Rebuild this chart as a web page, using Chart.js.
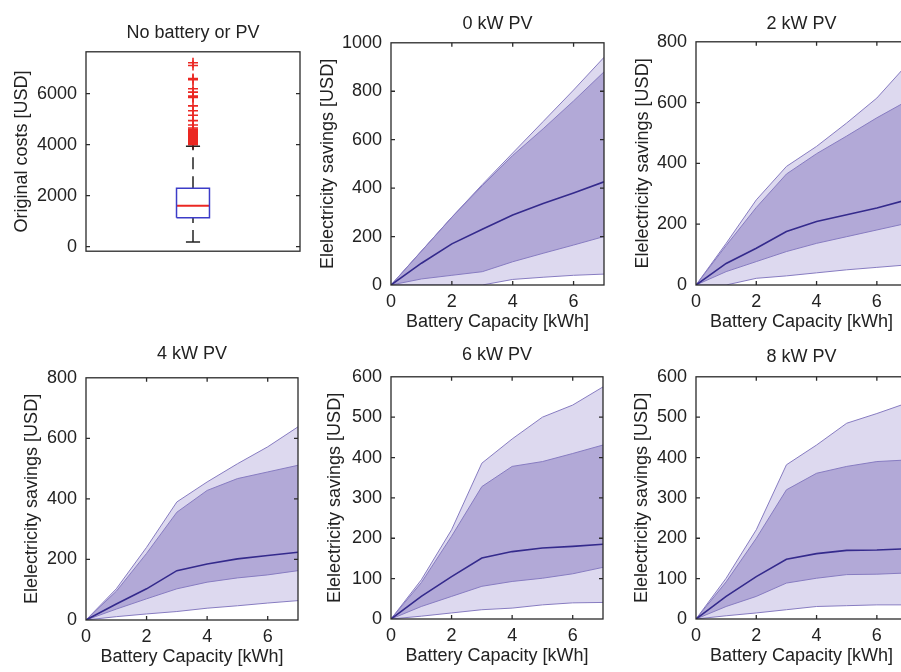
<!DOCTYPE html>
<html>
<head>
<meta charset="utf-8">
<script src="https://cdn.jsdelivr.net/npm/chart.js@4.4.0/dist/chart.umd.min.js"></script>
<style>
  html, body { margin: 0; padding: 0; background: #fff; overflow: hidden; width: 901px; height: 672px; }
  canvas { position: absolute; }
</style>
</head>
<body>
<script>
// ---- data ----
const panelTitles = ['No battery or PV', '0 kW PV', '2 kW PV', '4 kW PV', '6 kW PV', '8 kW PV'];
const capacityKWh = [0, 1, 2, 3, 4, 5, 6, 7];
const xTickValues = [0, 2, 4, 6];

// box plot of original costs (USD)
const costWhiskerLow = 180;
const costQ1 = 1130;
const costMedian = 1600;
const costQ3 = 2290;
const costWhiskerHigh = 3940;
const costOutliers = [7210, 7100, 6590, 6550, 6190, 6060, 5900, 5850, 5520, 5330, 5150, 4940, 4770,
  4650, 4600, 4560, 4520, 4480, 4440, 4400, 4360, 4330, 4300, 4270, 4240, 4210, 4180, 4150,
  4120, 4090, 4060, 4030, 4000];
const costTicks = [0, 2000, 4000, 6000];

// savings percentiles per PV size (USD)
const pv0_p5 = [0, 0, 0, 0, 23, 32, 40, 45];
const pv0_p25 = [0, 25, 40, 55, 96, 131, 165, 200];
const pv0_median = [0, 90, 170, 230, 289, 337, 380, 426];
const pv0_p75 = [0, 140, 280, 410, 535, 645, 760, 880];
const pv0_p95 = [0, 140, 280, 415, 545, 675, 805, 940];

const pv2_p5 = [0, 0, 22, 30, 40, 50, 58, 66];
const pv2_p25 = [0, 44, 77, 110, 137, 159, 181, 203];
const pv2_median = [0, 71, 121, 176, 209, 231, 253, 280];
const pv2_p75 = [0, 130, 255, 365, 432, 490, 550, 605];
const pv2_p95 = [0, 137, 280, 390, 456, 533, 615, 725];

const pv4_p5 = [0, 11, 20, 28, 39, 47, 56, 64];
const pv4_p25 = [0, 36, 70, 103, 125, 139, 149, 163];
const pv4_median = [0, 53, 103, 163, 185, 202, 213, 224];
const pv4_p75 = [0, 95, 220, 356, 428, 467, 489, 511];
const pv4_p95 = [0, 103, 240, 390, 456, 516, 572, 638];

const pv6_p5 = [0, 7, 15, 23, 27, 35, 40, 41];
const pv6_p25 = [0, 31, 56, 81, 93, 101, 112, 128];
const pv6_median = [0, 56, 105, 151, 167, 176, 180, 185];
const pv6_p75 = [0, 90, 205, 328, 378, 390, 410, 431];
const pv6_p95 = [0, 97, 221, 386, 446, 500, 530, 575];

const pv8_p5 = [0, 8, 15, 23, 31, 33, 35, 35];
const pv8_p25 = [0, 31, 56, 89, 101, 110, 111, 114];
const pv8_median = [0, 56, 105, 148, 162, 170, 171, 174];
const pv8_p75 = [0, 92, 200, 320, 361, 378, 390, 394];
const pv8_p95 = [0, 101, 221, 382, 431, 485, 509, 535];

const ticks1000 = [0, 200, 400, 600, 800, 1000];
const ticks800 = [0, 200, 400, 600, 800];
const ticks600 = [0, 100, 200, 300, 400, 500, 600];

// ---- styling ----
const FONT_SIZE = 18;
Chart.defaults.font.family = "'Liberation Sans', Arial, sans-serif";
Chart.defaults.font.size = FONT_SIZE;
Chart.defaults.color = '#222';

const lightBand = 'rgb(221, 217, 239)';
const darkBand = 'rgb(178, 169, 215)';
const edgeColor = 'rgb(135, 124, 193)';
const medianColor = 'rgb(52, 42, 140)';
const LINE_H = FONT_SIZE * 1.2;

// axes box with inward ticks on all four sides (matlab look)
const matlabBox = {
  id: 'matlabBox',
  afterDatasetsDraw(chart) {
    const { ctx, chartArea: a, scales } = chart;
    ctx.save();
    ctx.strokeStyle = '#2a2a2a';
    ctx.lineWidth = 1.3;
    ctx.strokeRect(a.left, a.top, a.right - a.left, a.bottom - a.top);
    ctx.beginPath();
    const len = 4;
    scales.x.ticks.forEach(t => {
      const px = scales.x.getPixelForValue(t.value);
      if (px <= a.left + 1 || px >= a.right - 1) return;
      ctx.moveTo(px, a.bottom); ctx.lineTo(px, a.bottom - len);
      ctx.moveTo(px, a.top); ctx.lineTo(px, a.top + len);
    });
    scales.y.ticks.forEach(t => {
      const py = scales.y.getPixelForValue(t.value);
      if (py <= a.top + 1 || py >= a.bottom - 1) return;
      ctx.moveTo(a.left, py); ctx.lineTo(a.left + len, py);
      ctx.moveTo(a.right, py); ctx.lineTo(a.right - len, py);
    });
    ctx.stroke();
    ctx.restore();
  }
};

// place a canvas so that the plot area lands on the given rectangle
function makeCanvas(g) {
  const top = Math.round(g.T - g.titleGap - LINE_H / 2 - 4);
  const left = g.L - 86;
  const xH = g.hasX ? 48 : 4;
  const c = document.createElement('canvas');
  c.width = g.R + 8 - left;
  c.height = g.B + xH - top;
  c.style.left = left + 'px';
  c.style.top = top + 'px';
  document.body.appendChild(c);
  return { ctx: c.getContext('2d'), xH, titlePadBottom: g.titleGap - LINE_H / 2 };
}

function baseOptions(g, info, title, yLabel, yMin, yMax, yTicks, xMin, xMax, xTicks, xLabel) {
  return {
    responsive: false,
    animation: false,
    layout: { padding: { left: 0, right: 8, top: 0, bottom: 0 } },
    plugins: {
      legend: { display: false },
      tooltip: { enabled: false },
      filler: { drawTime: 'beforeDatasetsDraw' },
      title: {
        display: true, text: title, color: '#222', fullSize: false,
        font: { size: FONT_SIZE, weight: 'normal' },
        padding: { top: 4, bottom: info.titlePadBottom }
      }
    },
    scales: {
      x: {
        type: 'linear', min: xMin, max: xMax,
        afterBuildTicks: s => { s.ticks = xTicks.map(v => ({ value: v })); },
        afterFit: s => { s.height = info.xH; },
        grid: { display: false, drawTicks: false },
        border: { display: false },
        ticks: { display: xTicks.length > 0, padding: 6, color: '#222', callback: v => String(v) },
        title: { display: !!xLabel, text: xLabel || '', color: '#222', padding: { top: 0, bottom: 0 } }
      },
      y: {
        type: 'linear', min: yMin, max: yMax,
        afterBuildTicks: s => { s.ticks = yTicks.map(v => ({ value: v })); },
        afterFit: s => { s.width = 86; },
        grid: { display: false, drawTicks: false },
        border: { display: false },
        ticks: { padding: 9, color: '#222', callback: v => String(v) },
        title: { display: true, text: yLabel, color: '#222', padding: { top: 86 - g.yTitleDist - LINE_H / 2, bottom: 0 } }
      }
    }
  };
}

// ---- panel 1: box plot ----
(function () {
  const g = { L: 86, T: 52, R: 300, B: 267, titleGap: 19, yTitleDist: 64, hasX: false };
  const info = makeCanvas(g);
  const boxHalf = 0.077, capHalf = 0.033, center = 1;
  const line = (pts, color, extra) => Object.assign({
    data: pts, showLine: true, borderColor: color, borderWidth: 1.5, pointRadius: 0, fill: false
  }, extra || {});
  new Chart(info.ctx, {
    type: 'scatter',
    data: {
      datasets: [
        line([{ x: center - boxHalf, y: costQ1 }, { x: center + boxHalf, y: costQ1 },
              { x: center + boxHalf, y: costQ3 }, { x: center - boxHalf, y: costQ3 },
              { x: center - boxHalf, y: costQ1 }], 'rgb(60, 60, 200)'),
        line([{ x: center - boxHalf, y: costMedian }, { x: center + boxHalf, y: costMedian }], 'rgb(235, 40, 35)', { borderWidth: 2 }),
        line([{ x: center, y: costQ3 }, { x: center, y: costWhiskerHigh }], '#222', { borderDash: [12, 7] }),
        line([{ x: center, y: costWhiskerLow }, { x: center, y: costQ1 }], '#222', { borderDash: [12, 7] }),
        line([{ x: center - capHalf, y: costWhiskerHigh }, { x: center + capHalf, y: costWhiskerHigh }], '#222'),
        line([{ x: center - capHalf, y: costWhiskerLow }, { x: center + capHalf, y: costWhiskerLow }], '#222'),
        {
          data: costOutliers.map(v => ({ x: center, y: v })),
          pointStyle: 'cross', pointRadius: 5, borderColor: 'rgb(235, 40, 35)', borderWidth: 1.6,
          backgroundColor: 'rgb(235, 40, 35)'
        }
      ]
    },
    options: baseOptions(g, info, panelTitles[0], 'Original costs [USD]', -180, 7640, costTicks, 0.5, 1.5, [], null),
    plugins: [matlabBox]
  });
})();

// ---- panels 2-6: percentile bands ----
function bandPanel(g, title, yMax, yTicks, p5, p25, med, p75, p95) {
  const info = makeCanvas(g);
  const pts = arr => capacityKWh.map((x, i) => ({ x, y: arr[i] }));
  const edge = (arr, order, fill, bg) => ({
    data: pts(arr), showLine: true, borderColor: edgeColor, borderWidth: 1, pointRadius: 0,
    fill: fill, backgroundColor: bg, order: order
  });
  new Chart(info.ctx, {
    type: 'scatter',
    data: {
      datasets: [
        { data: pts(med), showLine: true, borderColor: medianColor, borderWidth: 1.6, pointRadius: 0, fill: false, order: 1 },
        edge(p75, 2, { target: 2 }, darkBand),
        edge(p25, 3, false, darkBand),
        edge(p95, 4, { target: 4 }, lightBand),
        edge(p5, 5, false, lightBand)
      ]
    },
    options: baseOptions(g, info, title, 'Elelectricity savings [USD]', 0, yMax, yTicks, 0, 7, xTickValues, 'Battery Capacity [kWh]'),
    plugins: [matlabBox]
  });
}

bandPanel({ L: 391, T: 43, R: 604, B: 285, titleGap: 19, yTitleDist: 63, hasX: true },
  panelTitles[1], 1000, ticks1000, pv0_p5, pv0_p25, pv0_median, pv0_p75, pv0_p95);
bandPanel({ L: 696, T: 42, R: 907, B: 285, titleGap: 18, yTitleDist: 53, hasX: true },
  panelTitles[2], 800, ticks800, pv2_p5, pv2_p25, pv2_median, pv2_p75, pv2_p95);
bandPanel({ L: 86, T: 378, R: 298, B: 620, titleGap: 24, yTitleDist: 54, hasX: true },
  panelTitles[3], 800, ticks800, pv4_p5, pv4_p25, pv4_median, pv4_p75, pv4_p95);
bandPanel({ L: 391, T: 377, R: 603, B: 619, titleGap: 22, yTitleDist: 56, hasX: true },
  panelTitles[4], 600, ticks600, pv6_p5, pv6_p25, pv6_median, pv6_p75, pv6_p95);
bandPanel({ L: 696, T: 377, R: 907, B: 619, titleGap: 20, yTitleDist: 54, hasX: true },
  panelTitles[5], 600, ticks600, pv8_p5, pv8_p25, pv8_median, pv8_p75, pv8_p95);
</script>
</body>
</html>
